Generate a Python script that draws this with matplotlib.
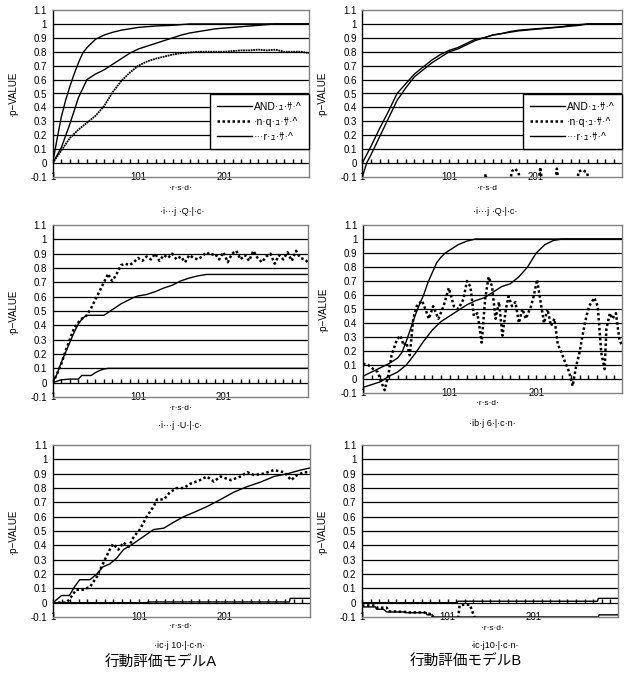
import numpy as np
import matplotlib
matplotlib.use('Agg')
import matplotlib.pyplot as plt
from matplotlib.lines import Line2D

plt.rcParams['font.family'] = ['Liberation Sans', 'Noto Sans CJK JP', 'DejaVu Sans']
plt.rcParams['axes.unicode_minus'] = True

# ---- データ (読み取り値) ----
# パネル1 (左上)
p1_and_x = [1, 6, 11, 16, 21, 26, 31, 36, 41, 46, 51, 61, 71, 81, 91, 101, 121, 141, 161, 300]
p1_and_y = [0, 0.17, 0.33, 0.45, 0.55, 0.64, 0.72, 0.79, 0.83, 0.86, 0.89, 0.92, 0.94, 0.955, 0.965, 0.975, 0.985, 0.99, 1.0, 1.0]
p1_r_x = [1, 11, 21, 31, 41, 51, 61, 71, 81, 91, 101, 111, 121, 131, 141, 151, 161, 171, 181, 191, 201, 221, 241, 261, 300]
p1_r_y = [0, 0.11, 0.28, 0.47, 0.6, 0.64, 0.67, 0.71, 0.75, 0.79, 0.82, 0.84, 0.86, 0.88, 0.9, 0.92, 0.935, 0.945, 0.955, 0.965, 0.97, 0.98, 0.99, 1.0, 1.0]
p1_nq_x = [1, 11, 21, 31, 41, 51, 61, 71, 81, 91, 101, 111, 121, 131, 141, 151, 161, 171, 181, 191, 201, 211, 221, 231, 241, 251, 261, 271, 281, 291, 300]
p1_nq_y = [0, 0.09, 0.18, 0.24, 0.29, 0.34, 0.41, 0.51, 0.59, 0.65, 0.7, 0.73, 0.75, 0.765, 0.78, 0.79, 0.795, 0.8, 0.8, 0.8, 0.8, 0.805, 0.81, 0.81, 0.815, 0.81, 0.815, 0.8, 0.8, 0.8, 0.79]

# パネル2 (右上)
p2_and_x = [1, 11, 21, 31, 41, 51, 61, 71, 81, 91, 101, 111, 121, 131, 141, 151, 161, 171, 181, 191, 201, 211, 221, 231, 241, 251, 261, 300]
p2_and_y = [0, 0.12, 0.25, 0.37, 0.5, 0.57, 0.64, 0.69, 0.74, 0.78, 0.81, 0.83, 0.86, 0.89, 0.9, 0.92, 0.93, 0.945, 0.955, 0.96, 0.965, 0.97, 0.975, 0.98, 0.99, 0.995, 1.0, 1.0]
p2_r_x = [1, 6, 11, 21, 31, 41, 51, 61, 71, 81, 91, 101, 111, 121, 131, 141, 151, 161, 171, 181, 201, 231, 251, 261, 300]
p2_r_y = [-0.1, 0.0, 0.06, 0.19, 0.32, 0.45, 0.54, 0.62, 0.67, 0.72, 0.76, 0.8, 0.82, 0.85, 0.88, 0.9, 0.92, 0.93, 0.94, 0.95, 0.962, 0.978, 0.99, 1.0, 1.0]
p2_nq_x = [1, 140, 143, 146, 170, 173, 177, 181, 184, 203, 206, 209, 222, 225, 228, 247, 250, 255, 260, 263, 300]
p2_nq_y = [-0.2, -0.2, -0.08, -0.2, -0.2, -0.06, -0.04, -0.07, -0.2, -0.2, -0.03, -0.2, -0.2, -0.04, -0.2, -0.2, -0.06, -0.05, -0.07, -0.2, -0.2]

# パネル3 (左中)
p3_nq_x = [1, 6, 11, 16, 21, 26, 31, 36, 41, 46, 51, 56, 61, 66, 69, 71, 76, 81, 86, 91, 96, 101, 106, 111, 116, 121, 126, 131, 136, 141, 146, 151, 156, 161, 166, 171, 176, 181, 186, 191, 196, 201, 206, 211, 216, 221, 226, 231, 236, 241, 246, 251, 256, 261, 266, 271, 276, 281, 286, 291, 296, 300]
p3_nq_y = [0, 0.06, 0.13, 0.22, 0.3, 0.38, 0.42, 0.45, 0.47, 0.52, 0.58, 0.64, 0.7, 0.76, 0.72, 0.71, 0.76, 0.82, 0.83, 0.82, 0.84, 0.87, 0.85, 0.88, 0.86, 0.9, 0.85, 0.89, 0.87, 0.9, 0.86, 0.88, 0.84, 0.89, 0.87, 0.86, 0.88, 0.91, 0.89, 0.9, 0.86, 0.91, 0.84, 0.9, 0.92, 0.86, 0.89, 0.85, 0.92, 0.87, 0.84, 0.88, 0.9, 0.83, 0.89, 0.86, 0.91, 0.85, 0.92, 0.87, 0.86, 0.84]
p3_and_x = [1, 6, 11, 16, 21, 26, 31, 36, 41, 61, 66, 71, 76, 81, 86, 91, 96, 101, 111, 121, 131, 141, 151, 161, 171, 181, 300]
p3_and_y = [0, 0.06, 0.14, 0.21, 0.28, 0.35, 0.41, 0.45, 0.47, 0.47, 0.49, 0.51, 0.53, 0.55, 0.565, 0.58, 0.595, 0.605, 0.615, 0.635, 0.66, 0.68, 0.71, 0.73, 0.745, 0.755, 0.755]
p3_r_x = [1, 6, 11, 21, 31, 35, 46, 51, 56, 61, 66, 300]
p3_r_y = [0, 0.01, 0.02, 0.025, 0.025, 0.05, 0.05, 0.07, 0.085, 0.095, 0.1, 0.1]

# パネル4 (右中)
p4_and_x = [1, 11, 21, 31, 41, 46, 51, 56, 61, 66, 71, 76, 81, 86, 91, 96, 101, 111, 121, 131, 300]
p4_and_y = [0.02, 0.05, 0.08, 0.11, 0.15, 0.19, 0.27, 0.36, 0.45, 0.53, 0.6, 0.69, 0.76, 0.83, 0.87, 0.9, 0.92, 0.96, 0.985, 1.0, 1.0]
p4_r_x = [1, 11, 21, 31, 41, 51, 61, 71, 81, 91, 101, 111, 121, 131, 141, 151, 161, 171, 181, 191, 201, 211, 221, 231, 300]
p4_r_y = [-0.06, -0.04, -0.02, 0.02, 0.05, 0.1, 0.18, 0.27, 0.35, 0.41, 0.45, 0.49, 0.53, 0.56, 0.58, 0.62, 0.66, 0.68, 0.73, 0.8, 0.9, 0.96, 0.99, 1.0, 1.0]
p4_nq_x = [1, 7, 13, 18, 22, 26, 30, 34, 40, 44, 48, 51, 55, 59, 63, 69, 73, 77, 82, 88, 94, 100, 106, 111, 117, 121, 125, 129, 133, 137, 138, 142, 146, 150, 154, 158, 162, 166, 169, 173, 177, 181, 185, 189, 195, 198, 202, 206, 210, 214, 218, 222, 226, 229, 233, 239, 243, 247, 251, 255, 259, 262, 268, 272, 276, 280, 282, 286, 289, 293, 297, 300]
p4_nq_y = [0.11, 0.1, 0.07, 0.05, -0.02, -0.08, 0.02, 0.17, 0.28, 0.31, 0.24, 0.26, 0.17, 0.43, 0.52, 0.56, 0.5, 0.43, 0.52, 0.43, 0.52, 0.65, 0.52, 0.5, 0.57, 0.7, 0.66, 0.45, 0.47, 0.31, 0.26, 0.57, 0.73, 0.66, 0.43, 0.55, 0.31, 0.5, 0.59, 0.52, 0.55, 0.4, 0.5, 0.43, 0.52, 0.59, 0.71, 0.55, 0.4, 0.5, 0.38, 0.43, 0.24, 0.21, 0.14, 0.05, -0.05, 0.09, 0.19, 0.33, 0.45, 0.52, 0.58, 0.52, 0.19, 0.07, 0.36, 0.47, 0.43, 0.47, 0.28, 0.24]

# パネル5 (左下)
p5_and_x = [1, 11, 20, 26, 32, 44, 52, 59, 67, 75, 83, 94, 106, 118, 130, 141, 153, 165, 180, 196, 211, 227, 242, 258, 274, 289, 300]
p5_and_y = [0, 0.05, 0.05, 0.11, 0.16, 0.16, 0.2, 0.25, 0.27, 0.31, 0.37, 0.41, 0.46, 0.51, 0.52, 0.56, 0.6, 0.63, 0.67, 0.72, 0.77, 0.81, 0.84, 0.88, 0.9, 0.925, 0.94]
p5_nq_x = [1, 17, 22, 28, 36, 44, 52, 59, 67, 71, 77, 83, 89, 95, 102, 110, 118, 122, 130, 137, 145, 153, 161, 172, 180, 188, 196, 208, 219, 227, 235, 246, 258, 270, 278, 285, 293, 300]
p5_nq_y = [0, 0, 0.04, 0.09, 0.09, 0.11, 0.18, 0.27, 0.37, 0.41, 0.37, 0.42, 0.39, 0.46, 0.51, 0.6, 0.67, 0.72, 0.72, 0.77, 0.8, 0.8, 0.83, 0.855, 0.88, 0.845, 0.88, 0.855, 0.88, 0.91, 0.89, 0.9, 0.925, 0.91, 0.855, 0.89, 0.91, 0.91]
p5_r_x = [1, 110, 112, 276, 277, 300]
p5_r_y = [0, 0, 0.005, 0.005, 0.03, 0.03]

# パネル6 (右下)
p6_nq_x = [1, 16, 18, 30, 32, 52, 54, 74, 76, 82, 85, 113, 115, 119, 127, 131, 134, 300]
p6_nq_y = [-0.02, -0.02, -0.035, -0.035, -0.06, -0.065, -0.068, -0.068, -0.075, -0.08, -0.12, -0.12, -0.02, -0.015, -0.015, -0.08, -0.12, -0.12]
p6_and_x = [1, 17, 18, 26, 30, 51, 53, 76, 77, 83, 85, 277, 278, 300]
p6_and_y = [-0.03, -0.03, -0.046, -0.046, -0.065, -0.065, -0.07, -0.07, -0.085, -0.085, -0.1, -0.1, -0.085, -0.085]
p6_r_x = [1, 112, 113, 276, 277, 300]
p6_r_y = [0, 0, 0.01, 0.01, 0.03, 0.03]

legend_labels = ['AND·ｭ·ｻ·^', '·n·q·ｭ·ｻ·^', '···r·ｭ·ｻ·^']
ytick_vals = [-0.1, 0, 0.1, 0.2, 0.3, 0.4, 0.5, 0.6, 0.7, 0.8, 0.9, 1.0, 1.1]
ytick_text = ['-0.1', '0', '0.1', '0.2', '0.3', '0.4', '0.5', '0.6', '0.7', '0.8', '0.9', '1', '1.1']
grid_levels = [0, 0.1, 0.2, 0.3, 0.4, 0.5, 0.6, 0.7, 0.8, 0.9, 1.0]
xtick_vals = [1, 101, 201]

W, H = 625, 674
fig = plt.figure(figsize=(W / 100, H / 100), dpi=100)


def rect(x0, x1, y0, y1):
    return [x0 / W, 1 - y1 / H, (x1 - x0) / W, (y1 - y0) / H]


DOT = (0, (1, 1))


def make_ax(r):
    ax = fig.add_axes(r)
    ax.set_xlim(1, 300)
    ax.set_ylim(-0.1, 1.1)
    for g in grid_levels:
        ax.axhline(g, color='black', lw=0.9, zorder=1)
    ax.set_yticks(ytick_vals)
    ax.set_yticklabels(ytick_text, fontsize=7)
    ax.tick_params(axis='y', length=0, pad=4)
    ax.set_xticks(xtick_vals)
    ax.set_xticklabels([str(v) for v in xtick_vals], fontsize=7)
    ax.tick_params(axis='x', length=0, pad=-3.5)
    for s in ['top', 'right', 'bottom']:
        ax.spines[s].set_color('#808080')
        ax.spines[s].set_linewidth(1.0)
    ax.spines['left'].set_color('black')
    ax.spines['left'].set_linewidth(1.0)
    # y=0 の横軸目盛
    tw = ax.twiny()
    tw.set_xlim(1, 300)
    tw.spines['bottom'].set_position(('data', 0))
    for s in ['top', 'right', 'left', 'bottom']:
        tw.spines[s].set_visible(False)
    tw.xaxis.set_ticks_position('bottom')
    tw.set_xticks(np.arange(1, 301, 10))
    tw.tick_params(axis='x', direction='in', length=3.2, width=1, color='black',
                   labelbottom=False, labeltop=False, top=False)
    ax.set_ylabel('·p−VALUE', fontsize=7)
    ax.yaxis.set_label_coords(-35 / (r[2] * W), 0.5)
    return ax


def draw(ax, s_and, s_nq, s_r, nq_style=DOT, nq_lw=1.8):
    ax.plot(s_and[0], s_and[1], color='black', lw=1.0, zorder=3)
    ax.plot(s_nq[0], s_nq[1], color='black', lw=nq_lw, linestyle=nq_style, zorder=3)
    ax.plot(s_r[0], s_r[1], color='black', lw=1.0, zorder=3)


def add_legend(ax):
    handles = [Line2D([], [], color='black', lw=1.0),
               Line2D([], [], color='black', lw=1.8, linestyle=DOT),
               Line2D([], [], color='black', lw=1.0)]
    leg = ax.legend(handles, legend_labels, loc='lower right', bbox_to_anchor=(1.0, 0.167),
                    fontsize=7.5, handlelength=3.3, handletextpad=0.2, borderaxespad=0,
                    fancybox=False, edgecolor='black', framealpha=1, borderpad=0.7,
                    labelspacing=0.5)
    leg.get_frame().set_linewidth(1.0)
    leg.set_zorder(5)


ax1 = make_ax(rect(52.7, 309, 10, 177))
draw(ax1, (p1_and_x, p1_and_y), (p1_nq_x, p1_nq_y), (p1_r_x, p1_r_y),
     nq_style=(0, (1, 0.4)), nq_lw=1.3)
add_legend(ax1)

ax2 = make_ax(rect(362.3, 622, 10, 177))
draw(ax2, (p2_and_x, p2_and_y), (p2_nq_x, p2_nq_y), (p2_r_x, p2_r_y))
add_legend(ax2)

ax3 = make_ax(rect(52.7, 308, 225, 397))
draw(ax3, (p3_and_x, p3_and_y), (p3_nq_x, p3_nq_y), (p3_r_x, p3_r_y))

ax4 = make_ax(rect(363, 622, 225, 393))
draw(ax4, (p4_and_x, p4_and_y), (p4_nq_x, p4_nq_y), (p4_r_x, p4_r_y))

ax5 = make_ax(rect(53, 310, 445, 617))
draw(ax5, (p5_and_x, p5_and_y), (p5_nq_x, p5_nq_y), (p5_r_x, p5_r_y))

ax6 = make_ax(rect(362, 618, 445, 617))
draw(ax6, (p6_and_x, p6_and_y), (p6_nq_x, p6_nq_y), (p6_r_x, p6_r_y))


def ftext(x, y, s, size):
    fig.text(x / W, 1 - y / H, s, fontsize=size, ha='center', va='center')


ftext(180, 188, '·r·s·d·', 6)
ftext(182, 211, '·i···j ·Q·|·c·', 6.5)
ftext(487, 188, '·r·s·d', 6)
ftext(495, 211, '·i···j ·Q·|·c·', 6.5)
ftext(180, 408, '·r·s·d·', 6)
ftext(180, 425, '·i···j ·U·|·c·', 6.5)
ftext(487, 403, '·r·s·d·', 6)
ftext(492, 423, '·ib·j 6·|·c·n·', 6.5)
ftext(180, 627, '·r·s·d·', 6)
ftext(180, 646, '·ic·j 10·|·c·n·', 6.5)
ftext(492, 629, '·r·s·d·', 6)
ftext(495, 645, '·ic·j10·|·c·n·', 6.5)
ftext(161, 663, '行動評価モデルA', 10.5)
ftext(466, 662, '行動評価モデルB', 10.5)

fig.savefig('out.png', dpi=100)
